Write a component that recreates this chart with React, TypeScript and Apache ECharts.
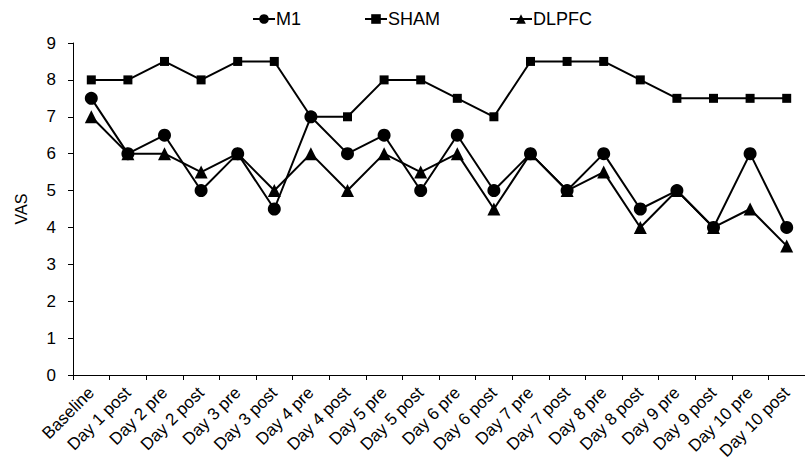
import React, { useEffect, useRef } from "react";
import * as echarts from "echarts";

const categories = [
  "Baseline", "Day 1 post", "Day 2 pre", "Day 2 post", "Day 3 pre", "Day 3 post",
  "Day 4 pre", "Day 4 post", "Day 5 pre", "Day 5 post", "Day 6 pre", "Day 6 post",
  "Day 7 pre", "Day 7 post", "Day 8 pre", "Day 8 post", "Day 9 pre", "Day 9 post",
  "Day 10 pre", "Day 10 post",
];
const m1 = [7.5, 6, 6.5, 5, 6, 4.5, 7, 6, 6.5, 5, 6.5, 5, 6, 5, 6, 4.5, 5, 4, 6, 4];
const sham = [8, 8, 8.5, 8, 8.5, 8.5, 7, 7, 8, 8, 7.5, 7, 8.5, 8.5, 8.5, 8, 7.5, 7.5, 7.5, 7.5];
const dlpfc = [7, 6, 6, 5.5, 6, 5, 6, 5, 6, 5.5, 6, 4.5, 6, 5, 5.5, 4, 5, 4, 4.5, 3.5];
const yTicks = [0, 1, 2, 3, 4, 5, 6, 7, 8, 9];

const FONT = "Liberation Sans, Arial, sans-serif";

export default function App() {
  const ref = useRef<HTMLDivElement>(null);
  useEffect(() => {
    if (!ref.current) return;
    const chart = echarts.init(ref.current, undefined, { renderer: "svg" });
    const legendCommon = {
      top: 5,
      itemWidth: 22,
      itemHeight: 12,
      itemGap: 4,
      textStyle: { fontFamily: FONT, fontSize: 18, color: "#000", padding: [0, 0, 0, -4] },
    };
    const lineStyle = { color: "#000", width: 2 };
    chart.setOption({
      animation: false,
      backgroundColor: "#fff",
      legend: [
        { ...legendCommon, left: 247, data: ["M1"] },
        { ...legendCommon, left: 359, data: ["SHAM"] },
        { ...legendCommon, left: 504, data: ["DLPFC"] },
      ],
      grid: { left: 73, top: 43, width: 741, height: 332, containLabel: false },
      xAxis: {
        type: "category",
        data: categories,
        boundaryGap: true,
        axisLine: { lineStyle: { color: "#000", width: 1 } },
        axisTick: { show: true, inside: false, length: 5, alignWithLabel: false, lineStyle: { color: "#000" } },
        axisLabel: {
          rotate: 45,
          interval: 0,
          fontFamily: FONT,
          fontSize: 17,
          color: "#000",
          margin: 15,
        },
        splitLine: { show: false },
      },
      yAxis: {
        type: "value",
        min: 0,
        max: 9,
        interval: 1,
        name: "VAS",
        nameLocation: "middle",
        nameGap: 44,
        nameTextStyle: { fontFamily: FONT, fontSize: 16, color: "#000" },
        axisLine: { show: true, lineStyle: { color: "#000", width: 1 } },
        axisTick: { show: true, length: 5, lineStyle: { color: "#000" } },
        axisLabel: {
          fontFamily: FONT,
          fontSize: 17,
          color: "#000",
          margin: 17,
          formatter: (v: number) => (yTicks.includes(v) ? String(v) : ""),
        },
        splitLine: { show: false },
      },
      series: [
        {
          name: "M1",
          type: "line",
          data: m1,
          symbol: "circle",
          symbolSize: 13,
          itemStyle: { color: "#000" },
          lineStyle,
        },
        {
          name: "SHAM",
          type: "line",
          data: sham,
          symbol: "rect",
          symbolSize: 9,
          itemStyle: { color: "#000" },
          lineStyle,
        },
        {
          name: "DLPFC",
          type: "line",
          data: dlpfc,
          symbol: "triangle",
          symbolSize: 13,
          itemStyle: { color: "#000" },
          lineStyle,
        },
      ],
    });
    return () => chart.dispose();
  }, []);
  return (
    <div
      ref={ref}
      style={{ position: "absolute", left: 0, top: 0, width: 805, height: 466, background: "#fff" }}
    />
  );
}
